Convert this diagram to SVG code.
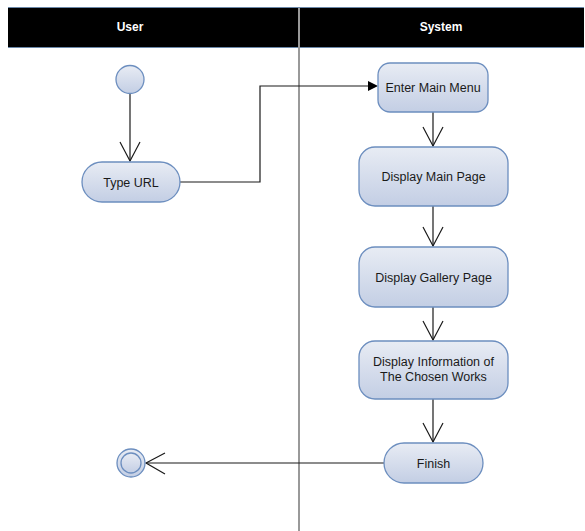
<svg xmlns="http://www.w3.org/2000/svg" width="585" height="531" viewBox="0 0 585 531">
<style>
.hdr{font-family:"Liberation Sans",Arial,sans-serif;font-size:12px;font-weight:bold;fill:#ffffff;text-anchor:middle}
.lbl{font-family:"Liberation Sans",Arial,sans-serif;font-size:12.5px;fill:#1a1a1a;text-anchor:middle}
.node{fill:url(#g);stroke:#6c8ebf;stroke-width:1.3}
.edge{fill:none;stroke:#1a1a1a;stroke-width:1.2}
.open{fill:none;stroke:#1a1a1a;stroke-width:1.2}
</style>
<defs>
<linearGradient id="g" x1="0" y1="0" x2="0" y2="1">
<stop offset="0" stop-color="#e8ecf4"/>
<stop offset="1" stop-color="#c3cee4"/>
</linearGradient>
</defs>
<rect width="585" height="531" fill="#ffffff"/>
<g id="lanes">
<rect x="8" y="8" width="576" height="39" fill="#000000"/>
<line x1="8" y1="7.5" x2="584" y2="7.5" stroke="#6a87a8" stroke-width="1.2"/>
<line x1="8" y1="47.5" x2="584" y2="47.5" stroke="#6a87a8" stroke-width="1.2"/>
<line x1="299" y1="8" x2="299" y2="531" stroke="#999999" stroke-width="2"/>
<text class="hdr" x="130" y="31">User</text>
<text class="hdr" x="441" y="31">System</text>
</g>
<g id="connectors">
<line class="edge" x1="130" y1="94" x2="130" y2="161"/>
<polyline class="open" points="120,142 130,161 140,142"/>
<polyline class="edge" points="180,182 260,182 260,86 368,86"/>
<polygon points="368,81 378,86 368,91" fill="#000000"/>
<line class="edge" x1="433" y1="112" x2="433" y2="146"/>
<polyline class="open" points="423,127 433,146 443,127"/>
<line class="edge" x1="433" y1="206" x2="433" y2="246"/>
<polyline class="open" points="423,227 433,246 443,227"/>
<line class="edge" x1="433" y1="307" x2="433" y2="340"/>
<polyline class="open" points="423,321 433,340 443,321"/>
<line class="edge" x1="433" y1="399" x2="433" y2="442"/>
<polyline class="open" points="423,423 433,442 443,423"/>
<line class="edge" x1="384" y1="463" x2="146" y2="463"/>
<polyline class="open" points="165,453 146,463 165,474"/>
</g>
<g id="start"><circle cx="130" cy="79.5" r="14" class="node"/></g>
<g id="typeurl"><rect x="82" y="162" width="98" height="40" rx="20" class="node"/><text class="lbl" x="131" y="186.5">Type URL</text></g>
<g id="entermenu"><rect x="378" y="63" width="110" height="49" rx="12" class="node"/><text class="lbl" x="433" y="92">Enter Main Menu</text></g>
<g id="mainpage"><rect x="359" y="147" width="149" height="59" rx="16" class="node"/><text class="lbl" x="433.5" y="181">Display Main Page</text></g>
<g id="gallery"><rect x="359" y="247" width="149" height="60" rx="16" class="node"/><text class="lbl" x="433.5" y="281.5">Display Gallery Page</text></g>
<g id="info"><rect x="359" y="341" width="149" height="58" rx="16" class="node"/><text class="lbl" x="433.5" y="366">Display Information of</text><text class="lbl" x="433.5" y="381">The Chosen Works</text></g>
<g id="finish"><rect x="384" y="443" width="99" height="40" rx="20" class="node"/><text class="lbl" x="433.5" y="467.5">Finish</text></g>
<g id="end"><circle cx="131" cy="463" r="14" class="node"/><circle cx="131" cy="463" r="10" class="node"/></g>
</svg>
